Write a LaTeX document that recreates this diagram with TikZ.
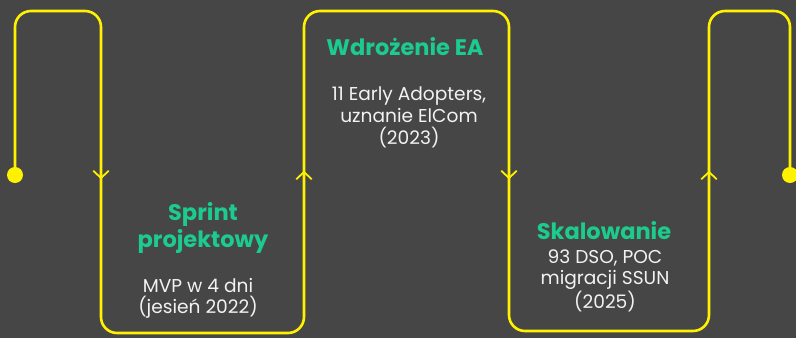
\documentclass[tikz,border=0pt]{standalone}
\usepackage{fontspec}
\setmainfont{Poppins}
\usetikzlibrary{calc}
\definecolor{bg}{HTML}{464646}
\definecolor{ylw}{HTML}{FFF200}
\definecolor{grn}{HTML}{1CCB8E}
\definecolor{txt}{HTML}{F2F2F2}
\begin{document}
\begin{tikzpicture}[x=1pt,y=-1pt,
  flow/.style={draw=ylw,line width=2.6pt,rounded corners=16pt},
  chev/.style={draw=ylw,line width=1.8pt,line cap=round,line join=round},
  head/.style={text=grn,font=\fontsize{22.5}{27}\selectfont\bfseries,align=center,inner sep=0pt},
  body/.style={text=txt,font=\fontsize{18.6}{21}\selectfont,align=center,inner sep=0pt}]
\fill[bg] (0,0) rectangle (796,338);
\useasboundingbox (0,0) rectangle (796,338);
% path points
\coordinate (s) at (15,175);
\coordinate (p1) at (15,11);
\coordinate (p2) at (101,11);
\coordinate (p3) at (101,333);
\coordinate (p4) at (304,333);
\coordinate (p5) at (304,11);
\coordinate (p6) at (509,11);
\coordinate (p7) at (509,331);
\coordinate (p8) at (709,331);
\coordinate (p9) at (709,11);
\coordinate (p10) at (790,11);
\coordinate (e) at (790,175);
\draw[flow] (s) -- (p1) -- (p2) -- (p3) -- (p4) -- (p5) -- (p6) -- (p7) -- (p8) -- (p9) -- (p10) -- (e);
\fill[ylw] (s) circle (8);
\fill[ylw] (e) circle (8);
% chevrons
\coordinate (a1) at (101,178);
\coordinate (a2) at (304,172);
\coordinate (a3) at (509,178);
\coordinate (a4) at (709,172);
\draw[chev] ($(a1)+(-7.5,-7)$) -- (a1) -- ($(a1)+(7.5,-7)$);
\draw[chev] ($(a2)+(-7.5,7)$) -- (a2) -- ($(a2)+(7.5,7)$);
\draw[chev] ($(a3)+(-7.5,-7)$) -- (a3) -- ($(a3)+(7.5,-7)$);
\draw[chev] ($(a4)+(-7.5,7)$) -- (a4) -- ($(a4)+(7.5,7)$);
% texts
\node[head] (h1) at (203,228) {Sprint\\projektowy};
\node[body] (b1) at (198,298.5) {MVP w 4 dni\\(jesień 2022)};
\node[head] (h2) at (405,47) {Wdrożenie EA};
\node[body,font=\fontsize{18.6}{22}\selectfont] (b2) at (409,117) {11 Early Adopters,\\uznanie ElCom\\(2023)};
\node[head] (h3) at (604,231) {Skalowanie};
\node[body] (b3) at (605,281) {93 DSO, POC\\migracji SSUN\\(2025)};
\end{tikzpicture}
\end{document}
